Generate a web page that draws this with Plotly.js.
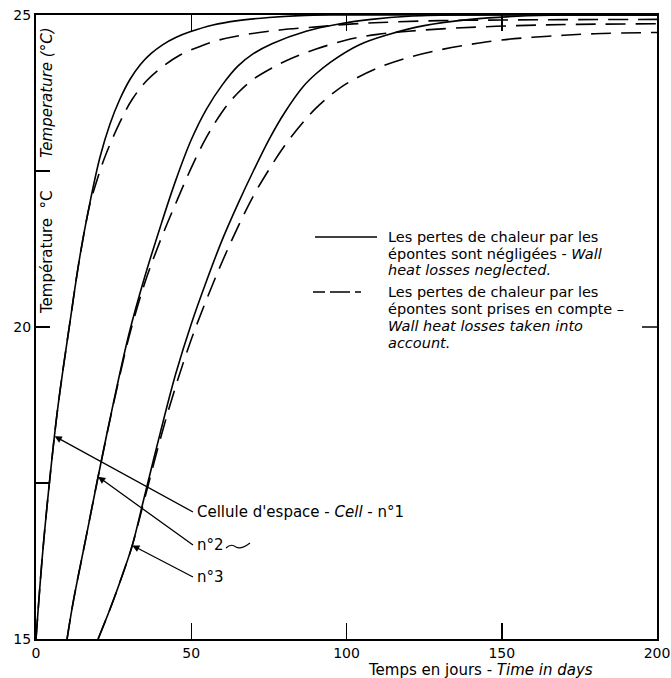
<!DOCTYPE html>
<html>
<head>
<meta charset="utf-8">
<script src="https://cdn.plot.ly/plotly-3.0.1.min.js"></script>
<style>html,body{margin:0;padding:0;background:#fff;}#chart{width:671px;height:678px;}</style>
</head>
<body>
<div id="chart"></div>
<script>
// ---- Data ----
const daysSolid1 = [0, 2, 4, 7, 11, 14.2, 17.4, 20.6, 23.8, 27, 30.3, 33.5, 37, 41, 45, 49.6, 57, 65, 75, 85, 95, 150, 200];
const tempSolid1 = [15, 16.3, 17.35, 18.7, 20.1, 21.15, 22.0, 22.72, 23.25, 23.65, 23.97, 24.2, 24.38, 24.53, 24.64, 24.73, 24.84, 24.91, 24.96, 24.99, 25, 25, 25];

const daysDash1 = [0, 2, 4, 7, 11, 14.2, 17.4, 19, 22, 27, 31, 35.7, 41, 46.4, 53, 59, 66.7, 78.6, 90.5, 100, 111, 130, 150, 200];
const tempDash1 = [15, 16.3, 17.35, 18.7, 20.1, 21.15, 21.98, 22.25, 22.7, 23.28, 23.65, 23.95, 24.18, 24.36, 24.5, 24.6, 24.68, 24.76, 24.81, 24.85, 24.88, 24.91, 24.92, 24.93];

const daysSolid2 = [10, 12, 16, 20, 25, 30, 35, 40, 45, 50, 55, 60, 65, 70, 76, 87, 98, 108, 120, 135, 200];
const tempSolid2 = [15, 15.6, 16.6, 17.6, 18.8, 19.9, 20.8, 21.6, 22.35, 23.0, 23.5, 23.88, 24.18, 24.38, 24.54, 24.74, 24.86, 24.93, 24.98, 25, 25];

const daysDash2 = [10, 12, 16, 20, 25, 30, 35, 40, 45, 50, 55, 60, 65, 70, 76, 82, 90, 100, 110, 120, 135, 155, 175, 200];
const tempDash2 = [15, 15.6, 16.6, 17.6, 18.78, 19.85, 20.7, 21.38, 21.98, 22.55, 23.05, 23.45, 23.75, 23.97, 24.15, 24.3, 24.45, 24.6, 24.69, 24.74, 24.79, 24.83, 24.85, 24.86];

const daysSolid3 = [20, 24, 28, 31, 35, 40, 45, 50, 55, 60, 65, 70, 75, 80, 86, 90, 95, 104, 113, 125, 140, 155, 170, 200];
const tempSolid3 = [15, 15.5, 16.05, 16.5, 17.3, 18.3, 19.25, 20.05, 20.75, 21.4, 21.97, 22.5, 23.0, 23.43, 23.85, 24.05, 24.25, 24.52, 24.68, 24.83, 24.93, 24.98, 25, 25];

const daysDash3 = [20, 24, 28, 31, 35, 40, 45, 50, 55, 60, 65, 70, 75, 80, 85, 90, 95, 100, 110, 120, 130, 140, 150, 165, 180, 200];
const tempDash3 = [15, 15.5, 16.05, 16.5, 17.25, 18.2, 19.05, 19.8, 20.45, 21.05, 21.6, 22.1, 22.52, 22.9, 23.22, 23.5, 23.72, 23.9, 24.15, 24.32, 24.44, 24.53, 24.6, 24.66, 24.7, 24.72];

const xTickVals = [0, 50, 100, 150, 200];
const xTickText = ['0', '50', '100', '150', '200'];
const yTickVals = [15, 17.5, 20, 22.5, 25];
const yTickText = ['15', '', '20', '', '25'];

const arrowDays = [6, 20, 31];          // where each cell arrow touches its curve
const cellLabels = ["Cellule d'espace - <i>Cell</i> - n°1", "n°2", "n°3"];

// ---- Layout helpers (pixel -> paper) ----
const W = 671, H = 678;
const PL = 36, PR = 657, PT = 15, PB = 639;
const px = x => (x - PL) / (PR - PL);
const py = y => (PB - y) / (PB - PT);
const FONT = 'DejaVu Sans';

function interp(xs, ys, x) {
  for (let i = 0; i < xs.length - 1; i++) {
    if (x >= xs[i] && x <= xs[i + 1]) {
      const f = (x - xs[i]) / (xs[i + 1] - xs[i]);
      return ys[i] + f * (ys[i + 1] - ys[i]);
    }
  }
  return ys[ys.length - 1];
}

const solidLine = {color: '#000', width: 1.6, shape: 'spline', smoothing: 1};
const dashLine = {color: '#000', width: 1.6, shape: 'spline', smoothing: 1, dash: '20px,10px'};

const traces = [
  {x: daysSolid1, y: tempSolid1, mode: 'lines', line: solidLine, name: 'Cell 1 - neglected'},
  {x: daysDash1, y: tempDash1, mode: 'lines', line: dashLine, name: 'Cell 1 - taken into account'},
  {x: daysSolid2, y: tempSolid2, mode: 'lines', line: solidLine, name: 'Cell 2 - neglected'},
  {x: daysDash2, y: tempDash2, mode: 'lines', line: dashLine, name: 'Cell 2 - taken into account'},
  {x: daysSolid3, y: tempSolid3, mode: 'lines', line: solidLine, name: 'Cell 3 - neglected'},
  {x: daysDash3, y: tempDash3, mode: 'lines', line: dashLine, name: 'Cell 3 - taken into account'}
];

const solidSets = [[daysSolid1, tempSolid1], [daysSolid2, tempSolid2], [daysSolid3, tempSolid3]];
const tailPix = [[193, 512], [193, 545], [193, 577]];
const toDays = xp => (xp - PL) / (PR - PL) * 200;
const toTemp = yp => 25 - (yp - PT) / (PB - PT) * 10;

const annotations = [];
cellLabels.forEach((lab, i) => {
  const t = arrowDays[i];
  const T = interp(solidSets[i][0], solidSets[i][1], t);
  annotations.push({
    x: t, y: T, xref: 'x', yref: 'y',
    ax: toDays(tailPix[i][0]), ay: toTemp(tailPix[i][1]), axref: 'x', ayref: 'y',
    text: lab, showarrow: true, arrowhead: 2, arrowsize: 1.1, arrowwidth: 1.3, arrowcolor: '#000',
    xanchor: 'left', yanchor: 'middle', borderpad: 3,
    font: {family: FONT, size: 15, color: '#000'}
  });
});

function textAt(xp, yp, text, extra) {
  return Object.assign({
    x: px(xp), y: py(yp), xref: 'paper', yref: 'paper', text: text, showarrow: false,
    xanchor: 'left', yanchor: 'middle', align: 'left',
    font: {family: FONT, size: 15, color: '#000'}
  }, extra || {});
}

// legend text
const legFont = {font: {family: FONT, size: 14.5, color: '#000'}};
const legendLines1 = ['Les pertes de chaleur par les', 'épontes sont négligées - <i>Wall</i>', '<i>heat losses neglected.</i>'];
const legendLines2 = ['Les pertes de chaleur par les', 'épontes sont prises en compte –', '<i>Wall heat losses taken into</i>', '<i>account.</i>'];
legendLines1.forEach((s, i) => annotations.push(textAt(386, 237 + i * 16.7, s, legFont)));
legendLines2.forEach((s, i) => annotations.push(textAt(386, 292 + i * 16.9, s, legFont)));

// axis titles
annotations.push(textAt(47, 252, 'Température&nbsp;&nbsp;°C', {xanchor: 'center', textangle: -90}));
annotations.push(textAt(47, 93, '<i>Temperature (°C)</i>', {xanchor: 'center', textangle: -90}));
annotations.push(textAt(480, 670, 'Temps en jours - <i>Time in days</i>', {xanchor: 'center'}));

const shapes = [
  // legend samples
  {type: 'line', xref: 'paper', yref: 'paper', x0: px(315), x1: px(377), y0: py(237), y1: py(237),
   line: {color: '#000', width: 1.5}},
  {type: 'line', xref: 'paper', yref: 'paper', x0: px(313), x1: px(362), y0: py(292), y1: py(292),
   line: {color: '#000', width: 1.5, dash: '12px,5px,20px,5px,6px,40px'}},
  // right-hand tick at 20 °C
  {type: 'line', xref: 'paper', yref: 'y', x0: 1 - 15 / (PR - PL), x1: 1, y0: 20, y1: 20,
   line: {color: '#000', width: 1.5}},
  // hand-drawn squiggle after "n°2"
  {type: 'path', xref: 'paper', yref: 'paper',
   path: `M ${px(226)} ${py(548)} Q ${px(231)} ${py(543)} ${px(236)} ${py(547)} Q ${px(241)} ${py(550)} ${px(250)} ${py(543)}`,
   line: {color: '#000', width: 1.1}}
];

const axisCommon = {
  showline: true, linecolor: '#000', linewidth: 2,
  ticks: 'inside', tickcolor: '#000', tickwidth: 1.5,
  showgrid: false, zeroline: false, fixedrange: true,
  ticklabeloverflow: 'allow',
  tickfont: {family: FONT, size: 14, color: '#000'}
};

const layout = {
  width: W, height: H,
  margin: {l: PL, r: W - PR, t: PT, b: H - PB, pad: 0},
  paper_bgcolor: '#fff', plot_bgcolor: '#fff',
  showlegend: false,
  xaxis: Object.assign({}, axisCommon, {mirror: 'ticks', range: [0, 200], tickvals: xTickVals, ticktext: xTickText, ticklen: 16}),
  yaxis: Object.assign({}, axisCommon, {mirror: true, range: [15, 25], tickvals: yTickVals, ticktext: yTickText, ticklen: 14}),
  annotations: annotations,
  shapes: shapes,
  font: {family: FONT, size: 15, color: '#000'}
};

Plotly.newPlot('chart', traces, layout, {staticPlot: true, displayModeBar: false});
</script>
</body>
</html>
